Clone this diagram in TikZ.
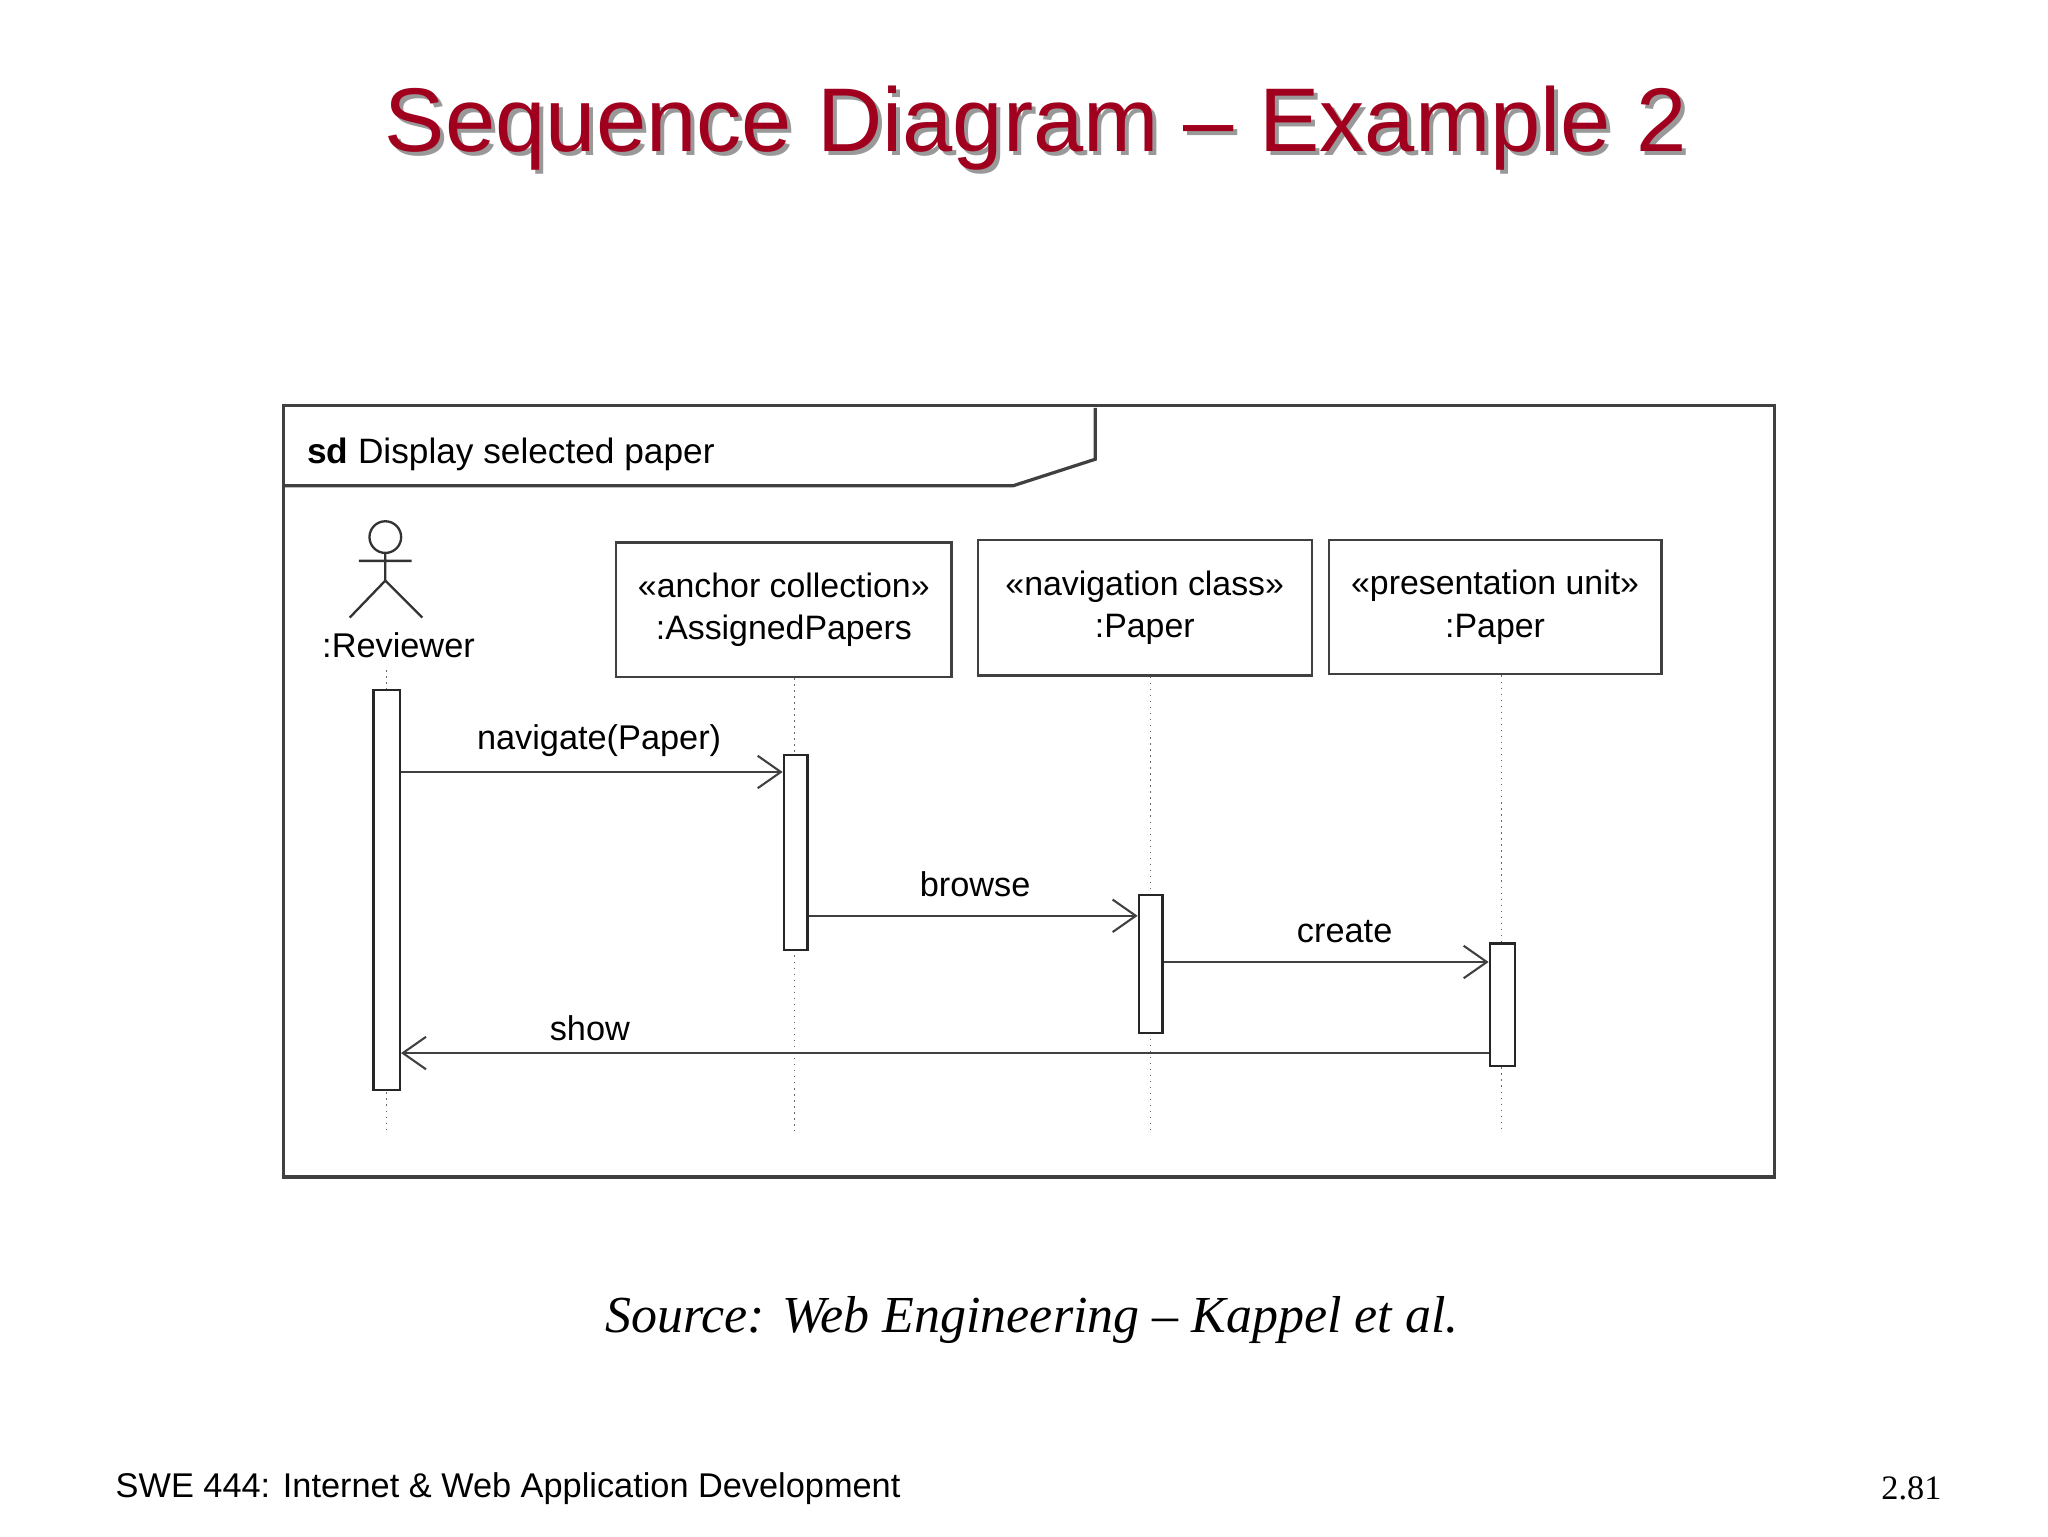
\documentclass[tikz,border=0pt]{standalone}
\usepackage{fontspec}
\setmainfont{Liberation Sans}
\newfontfamily\timesf{Liberation Serif}
\usetikzlibrary{arrows.meta}
\definecolor{ttl}{HTML}{A0001E}
\begin{document}
\begin{tikzpicture}[x=0.1mm,y=-0.1mm,
  lbl/.style={font=\fontsize{7.4}{9}\selectfont,inner sep=0pt},
  obj/.style={draw=black!75,line width=0.5pt,align=center,font=\fontsize{7.3}{9.2}\selectfont,inner sep=0pt},
  life/.style={draw=black!60,line width=0.3pt,densely dotted},
  act/.style={draw=black!85,fill=white,line width=0.5pt,inner sep=0pt},
  msg/.style={draw=black!75,line width=0.45pt,-{Straight Barb[length=5pt,width=7pt]}}]
\useasboundingbox (0,0) rectangle (1552,1164);
% title
\node[font=\fontsize{19.5}{22}\selectfont,text=black!40] at (788,100) {Sequence Diagram – Example 2};
\node[font=\fontsize{19.5}{22}\selectfont,text=ttl] (title) at (785,97) {Sequence Diagram – Example 2};
% frame
\draw[black!75,line width=0.7pt] (215,307) rectangle (1345,892);
\draw[black!75,line width=0.7pt] (215,368) -- (768,368) -- (830,348) -- (830,309);
\node[lbl,anchor=west,font=\fontsize{7.6}{9}\selectfont] (sd) at (232,344) {\textbf{sd} Display selected paper};
% actor
\draw[black!80,line width=0.5pt] (292,407) circle[radius=1.2mm];
\draw[black!80,line width=0.5pt] (292,419) -- (292,440) (272,425) -- (312,425) (292,440) -- (265,468) (292,440) -- (320,468);
\node[lbl] (rev) at (302,489) {:Reviewer};
% objects
\node[obj,minimum width=25.4mm,minimum height=10.2mm] (ap) at (594,462) {«anchor collection»\\:AssignedPapers};
\node[obj,minimum width=25.3mm,minimum height=10.3mm] (np) at (867.5,460.5) {«navigation class»\\:Paper};
\node[obj,minimum width=25.2mm,minimum height=10.2mm] (pp) at (1133,460) {«presentation unit»\\:Paper};
% lifelines
\coordinate (l1t) at (293,508); \coordinate (l1b) at (293,857);
\draw[life] (l1t) -- (l1b);
\coordinate (l2b) at (602,857); \draw[life] (ap.south -| l2b) -- (l2b);
\coordinate (l3b) at (872,857); \draw[life] (np.south -| l3b) -- (l3b);
\coordinate (l4b) at (1138,857); \draw[life] (pp.south -| l4b) -- (l4b);
% activations
\node[act,minimum width=2.0mm,minimum height=30.3mm] (a1) at (293,674.5) {};
\node[act,minimum width=1.8mm,minimum height=14.8mm] (a2) at (603,646) {};
\node[act,minimum width=1.8mm,minimum height=10.5mm] (a3) at (872,730.5) {};
\node[act,minimum width=1.9mm,minimum height=9.3mm] (a4) at (1138.5,761.5) {};
% messages
\draw[msg] (a1.east |- 0,585) -- (a2.west |- 0,585);
\node[lbl] (m1) at (454,561) {navigate(Paper)};
\draw[msg] (a2.east |- 0,694) -- (a3.west |- 0,694);
\node[lbl] (m2) at (739,670) {browse};
\draw[msg] (a3.east |- 0,729) -- (a4.west |- 0,729);
\node[lbl] (m3) at (1019,706) {create};
\draw[msg] (a4.west |- 0,798) -- (a1.east |- 0,798);
\node[lbl] (m4) at (447,779) {show};
% source & footer
\node[font=\timesf\itshape\fontsize{11.2}{13}\selectfont] (src) at (782,1000) {Source: Web Engineering – Kappel et al.};
\node[anchor=west,font=\fontsize{7.4}{9}\selectfont,inner sep=0pt] (ft) at (87,1128) {SWE 444: Internet \& Web Application Development};
\node[anchor=east,font=\timesf\fontsize{7.4}{9}\selectfont,inner sep=0pt] (pg) at (1472,1128) {2.81};
\end{tikzpicture}
\end{document}
